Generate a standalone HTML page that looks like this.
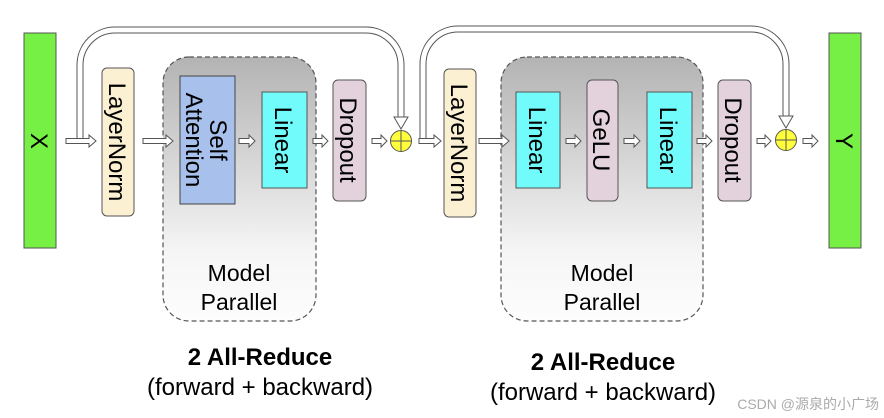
<!DOCTYPE html>
<html><head><meta charset="utf-8"><style>
html,body{margin:0;padding:0;background:#fff;}
svg{display:block;}
text{font-family:"Liberation Sans",Arial,sans-serif;fill:#000;}
</style></head><body>
<svg width="884" height="418" viewBox="0 0 884 418" xmlns="http://www.w3.org/2000/svg">
<defs>
<linearGradient id="g" x1="0" y1="0" x2="0" y2="1">
<stop offset="0" stop-color="#b3b3b3"/><stop offset="0.75" stop-color="#f6f6f6"/><stop offset="1" stop-color="#fdfdfd"/>
</linearGradient>
</defs>
<rect x="163" y="57" width="153" height="264" rx="26" fill="url(#g)" stroke="#555" stroke-dasharray="5,3" stroke-width="1.2"/>
<rect x="501" y="57" width="202" height="264" rx="26" fill="url(#g)" stroke="#555" stroke-dasharray="5,3" stroke-width="1.2"/>
<g fill="none" stroke-linejoin="round">
<path d="M80,141 V65 A35,35 0 0 1 115,30 H366 A35,35 0 0 1 401,65 V118" stroke="#555" stroke-width="7"/>
<path d="M80,141 V65 A35,35 0 0 1 115,30 H366 A35,35 0 0 1 401,65 V119" stroke="#fff" stroke-width="5"/>
<path d="M423,141 V64 A35,35 0 0 1 458,29 H751 A35,35 0 0 1 786,64 V117" stroke="#555" stroke-width="7"/>
<path d="M423,141 V64 A35,35 0 0 1 458,29 H751 A35,35 0 0 1 786,64 V118" stroke="#fff" stroke-width="5"/>
</g>
<polygon points="394,117 408,117 401,129" fill="#fff" stroke="#555" stroke-width="1"/>
<polygon points="779,116 793,116 786,128" fill="#fff" stroke="#555" stroke-width="1"/>
<g fill="#fff" stroke="#555" stroke-width="1">
<polygon points="66,138.5 89,138.5 89,135 96,141 89,147 89,143.5 66,143.5"/>
<polygon points="143,138.5 166,138.5 166,135 173,141 166,147 166,143.5 143,143.5"/>
<polygon points="239,138.5 249,138.5 249,135 255,141 249,147 249,143.5 239,143.5"/>
<polygon points="313,138.5 322,138.5 322,135 328,141 322,147 322,143.5 313,143.5"/>
<polygon points="372,138.5 381,138.5 381,135 387,141 381,147 381,143.5 372,143.5"/>
<polygon points="419,138.5 434,138.5 434,135 441,141 434,147 434,143.5 419,143.5"/>
<polygon points="479,138.5 502,138.5 502,135 509,141 502,147 502,143.5 479,143.5"/>
<polygon points="566,138.5 575,138.5 575,135 581,141 575,147 575,143.5 566,143.5"/>
<polygon points="624,138.5 634,138.5 634,135 640,141 634,147 634,143.5 624,143.5"/>
<polygon points="697,138.5 706,138.5 706,135 712,141 706,147 706,143.5 697,143.5"/>
<polygon points="757,138.5 765,138.5 765,135 771,141 765,147 765,143.5 757,143.5"/>
<polygon points="803,138.5 812,138.5 812,135 818,141 812,147 812,143.5 803,143.5"/>
</g>
<rect x="24" y="33" width="32" height="215" fill="#77f046" stroke="#555"/>
<rect x="829" y="33" width="32" height="215" fill="#77f046" stroke="#555"/>
<rect x="102" y="68" width="32" height="148" rx="5" fill="#fcf0d2" stroke="#555"/>
<rect x="444" y="69" width="32" height="148" rx="5" fill="#fcf0d2" stroke="#555"/>
<rect x="180" y="76" width="55" height="128" fill="#a8c0ec" stroke="#444"/>
<rect x="262" y="92" width="45" height="96" fill="#72fbfb" stroke="#555"/>
<rect x="516" y="92" width="44" height="96" fill="#72fbfb" stroke="#555"/>
<rect x="647" y="92" width="45" height="96" fill="#72fbfb" stroke="#555"/>
<rect x="333" y="80" width="33" height="121" rx="5" fill="#e3d2dc" stroke="#555"/>
<rect x="587" y="80" width="31" height="121" rx="5" fill="#e3d2dc" stroke="#555"/>
<rect x="718" y="80" width="33" height="121" rx="5" fill="#e3d2dc" stroke="#555"/>
<g stroke="#555" stroke-width="1">
<circle cx="401" cy="141" r="10.5" fill="#ffff3a"/>
<line x1="390.5" y1="141" x2="411.5" y2="141"/><line x1="401" y1="130.5" x2="401" y2="151.5"/>
<circle cx="786" cy="140" r="10.5" fill="#ffff3a"/>
<line x1="775.5" y1="140" x2="796.5" y2="140"/><line x1="786" y1="129.5" x2="786" y2="150.5"/>
</g>
<g font-size="24" text-anchor="middle">
<text transform="translate(40,141) rotate(90)" dy="9">X</text>
<text transform="translate(845,141) rotate(90)" dy="9">Y</text>
<text transform="translate(118,142) rotate(90)" dy="9">LayerNorm</text>
<text transform="translate(460,143) rotate(90)" dy="9">LayerNorm</text>
<text transform="translate(219,140) rotate(90)" dy="9">Self</text>
<text transform="translate(195,140) rotate(90)" dy="9">Attention</text>
<text transform="translate(284,140) rotate(90)" dy="9">Linear</text>
<text transform="translate(538,140) rotate(90)" dy="9">Linear</text>
<text transform="translate(669,140) rotate(90)" dy="9">Linear</text>
<text transform="translate(602,140) rotate(90)" dy="9">GeLU</text>
<text transform="translate(349,140) rotate(90)" dy="9">Dropout</text>
<text transform="translate(734,140) rotate(90)" dy="9">Dropout</text>
</g>
<g font-size="23" text-anchor="middle">
<text x="239" y="281">Model</text>
<text x="239" y="310">Parallel</text>
<text x="602" y="281">Model</text>
<text x="602" y="310">Parallel</text>
</g>
<g font-size="24" text-anchor="middle">
<text x="260" y="365" font-weight="bold">2 All-Reduce</text>
<text x="260" y="395">(forward + backward)</text>
<text x="603" y="370" font-weight="bold">2 All-Reduce</text>
<text x="603" y="400">(forward + backward)</text>
</g>
<text x="879" y="409" font-size="14" text-anchor="end" style="fill:#aaa;font-family:'Liberation Sans','Noto Sans CJK SC',sans-serif">CSDN @源泉的小广场</text>
</svg>
</body></html>
